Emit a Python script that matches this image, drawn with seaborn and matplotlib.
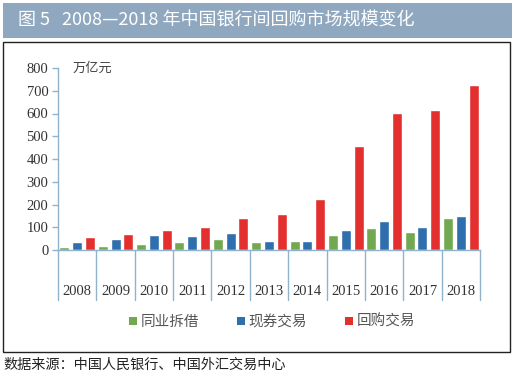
import matplotlib
matplotlib.use("Agg")
import matplotlib.pyplot as plt
import matplotlib.transforms as mtransforms
from matplotlib.patches import Patch, Rectangle
import seaborn as sns
import pandas as pd

years = ["2008", "2009", "2010", "2011", "2012", "2013", "2014", "2015", "2016", "2017", "2018"]
interbank = [15.0, 19.4, 27.9, 33.4, 46.7, 35.5, 37.7, 64.2, 95.9, 79.0, 139.3]
bond_cash = [37.1, 47.3, 64.0, 63.6, 75.2, 41.6, 40.4, 86.7, 127.5, 102.1, 150.7]
repo = [58.1, 70.3, 87.6, 99.5, 141.7, 158.2, 224.4, 457.8, 601.3, 616.6, 727.0]
series_names = ["同业拆借", "现券交易", "回购交易"]
yticks = [0, 100, 200, 300, 400, 500, 600, 700, 800]

colors = ["#72a84f", "#2f6fae", "#e3302f"]
axis_col = "#8fb3cc"

rows = []
for name, vals in zip(series_names, [interbank, bond_cash, repo]):
    for y, v in zip(years, vals):
        rows.append({"year": y, "series": name, "value": v})
df = pd.DataFrame(rows)

sns.set_theme(style="white")
plt.rcParams["font.family"] = ["Noto Sans CJK SC", "DejaVu Sans"]

W, H = 515, 375
fig = plt.figure(figsize=(W / 100, H / 100), dpi=100)
fig.patch.set_facecolor("white")

# title bar
fig.patches.append(Rectangle((3 / W, 1 - 38 / H), 509 / W, 35 / H, transform=fig.transFigure,
                             facecolor="#8fa8bf", edgecolor="none", zorder=0))
fig.text(18 / W, 1 - 21 / H, "图 5   2008—2018 年中国银行间回购市场规模变化", color="white",
         fontsize=13, va="center", ha="left")
# chart frame
fig.patches.append(Rectangle((3 / W, 1 - 352 / H), 507 / W, 310.5 / H, transform=fig.transFigure,
                             facecolor="none", edgecolor="#222222", linewidth=1.0, zorder=0))

ax = fig.add_axes([58 / W, 1 - 250 / H, 422 / W, 182 / H])
sns.barplot(data=df, x="year", y="value", hue="series", palette=colors, ax=ax,
            width=1.0, gap=0.22, legend=False, saturation=1)

ax.set_xlim(-0.5, len(years) - 0.5)
ax.set_ylim(0, 800)
ax.set_yticks(yticks)
ax.set_yticklabels([str(t) for t in yticks], family="Liberation Serif", fontsize=10.5, color="#333333")
ax.set_xticks(range(len(years)))
ax.set_xticklabels(years, family="Liberation Serif", fontsize=10.5, color="#333333")
ax.tick_params(axis="x", length=0, pad=25)
ax.tick_params(axis="y", length=4, width=1, color=axis_col, direction="out", pad=3, left=True)
ax.set_xlabel("")
ax.set_ylabel("")
for s in ["top", "right"]:
    ax.spines[s].set_visible(False)
for s in ["left", "bottom"]:
    ax.spines[s].set_color(axis_col)
    ax.spines[s].set_linewidth(1.0)

trans = mtransforms.blended_transform_factory(ax.transData, ax.transAxes)
for i in range(len(years) + 1):
    ax.plot([i - 0.5, i - 0.5], [0, -50 / 182], transform=trans, color=axis_col,
            linewidth=1.0, clip_on=False)

ax.text(15 / 422, 1.0, "万亿元", transform=ax.transAxes, fontsize=9.5, color="#444444",
        va="center", ha="left")

handles = [Patch(facecolor=c, edgecolor="none") for c in colors]
fig.legend(handles, series_names, loc="center", bbox_to_anchor=(272 / W, 1 - 322 / H),
           ncol=3, frameon=False, fontsize=10.5, handlelength=0.55, handleheight=0.55,
           handletextpad=0.25, columnspacing=2.6, labelcolor="#555555")

fig.text(3 / W, 1 - 365 / H, "数据来源：中国人民银行、中国外汇交易中心", color="#222222",
         fontsize=10.2, va="center", ha="left")

fig.savefig("out.png", dpi=100)
